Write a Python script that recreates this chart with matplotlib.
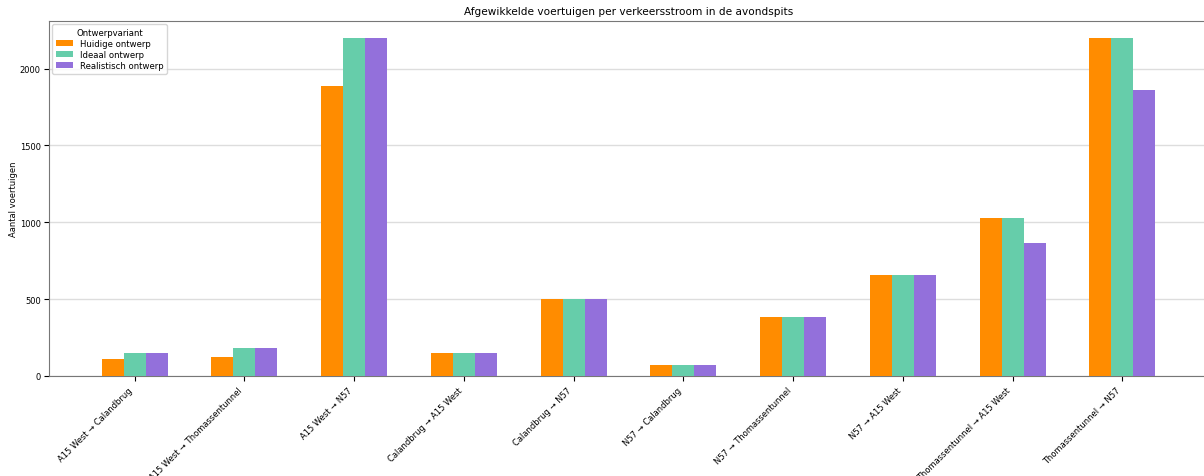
import numpy as np
import matplotlib
matplotlib.use("Agg")
import matplotlib.pyplot as plt

# verkeersstromen en afgewikkelde voertuigen per ontwerp
stromen = [
    "A15 West → Calandbrug",
    "A15 West → Thomassentunnel",
    "A15 West → N57",
    "Calandbrug → A15 West",
    "Calandbrug → N57",
    "N57 → Calandbrug",
    "N57 → Thomassentunnel",
    "N57 → A15 West",
    "Thomassentunnel → A15 West",
    "Thomassentunnel → N57",
]
huidig = [111, 124, 1887, 147, 503, 72, 386, 654, 1031, 2200]
ideaal = [150, 183, 2200, 147, 503, 72, 386, 654, 1026, 2200]
realistisch = [150, 183, 2200, 147, 503, 72, 386, 654, 867, 1862]

series = [
    ("Huidige ontwerp", huidig, "#FF8C00"),
    ("Ideaal ontwerp", ideaal, "#66CDAA"),
    ("Realistisch ontwerp", realistisch, "#9370DB"),
]

fig = plt.figure(figsize=(12.04, 4.77), dpi=100)
ax = fig.add_axes([49 / 1204, 100 / 477, 1159 / 1204, 355 / 477])

x = np.arange(len(stromen))
w = 0.2
for i, (naam, waarden, kleur) in enumerate(series):
    ax.bar(x + (i - 1) * w, waarden, width=w, color=kleur, label=naam, zorder=3)

ax.set_xticks(x)
ax.set_xticklabels(stromen, rotation=45, ha="right", fontsize=6)
ax.tick_params(axis="y", labelsize=6, pad=2.5)
ax.set_ylabel("Aantal voertuigen", fontsize=6, labelpad=1)
ax.set_title("Afgewikkelde voertuigen per verkeersstroom in de avondspits", fontsize=7.6, pad=5)
ax.yaxis.grid(True, color="#dddddd", linewidth=1, zorder=0)
for s in ax.spines.values():
    s.set_color("#777777")

leg = ax.legend(title="Ontwerpvariant", loc="upper left", fontsize=6.1, title_fontsize=6.1,
                labelspacing=0.25, borderaxespad=0.4)

fig.savefig("out.png", dpi=100)
